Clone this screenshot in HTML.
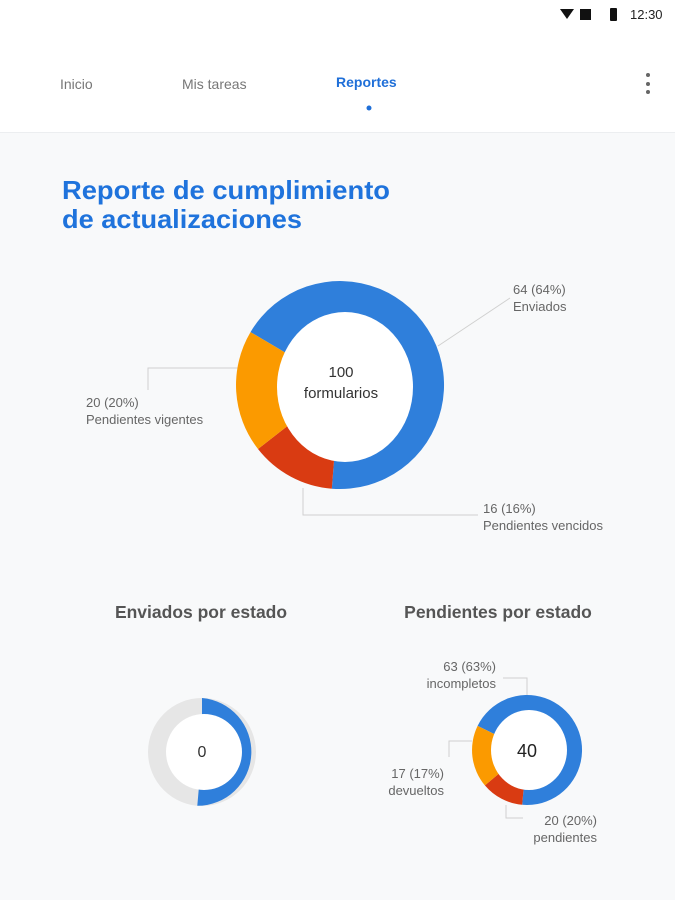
<!DOCTYPE html>
<html><head><meta charset="utf-8"><style>
body{margin:0;width:675px;height:900px;overflow:hidden;background:#f8f9fa;font-family:"Liberation Sans",sans-serif}
svg{display:block}
</style></head><body>
<svg width="675" height="900" viewBox="0 0 675 900" xmlns="http://www.w3.org/2000/svg" font-family="Liberation Sans, sans-serif">
<rect x="0" y="0" width="675" height="132" fill="#fff"/>
<line x1="0" y1="132.5" x2="675" y2="132.5" stroke="#eceef0"/>
<path d="M560 9 L574 9 L567 19 Z" fill="#111"/>
<rect x="580" y="9" width="11" height="11" fill="#111"/>
<rect x="610" y="8" width="7" height="13" rx="1" fill="#111"/>
<text x="630" y="19" font-size="13" fill="#222">12:30</text>
<text x="60" y="89" font-size="14" fill="#777">Inicio</text>
<text x="182" y="89" font-size="14" fill="#777">Mis tareas</text>
<text x="336" y="87" font-size="14" font-weight="bold" fill="#1f6fd8">Reportes</text>
<circle cx="369" cy="108" r="2.5" fill="#1f6fd8"/>
<circle cx="648" cy="75" r="2" fill="#666"/><circle cx="648" cy="84" r="2" fill="#666"/><circle cx="648" cy="92" r="2" fill="#666"/>
<text x="62" y="199" font-size="26" font-weight="bold" fill="#1f73dc" textLength="328" lengthAdjust="spacingAndGlyphs">Reporte de cumplimiento</text>
<text x="62" y="228" font-size="26" font-weight="bold" fill="#1f73dc" textLength="240" lengthAdjust="spacingAndGlyphs">de actualizaciones</text>
<g fill="none" stroke="#d0d0d0" stroke-width="1">
<polyline points="438,346 510,298"/>
<polyline points="238,368 148,368 148,390"/>
<polyline points="303,488 303,515 478,515"/>
</g>
<path d="M340 385 L250.5 332.1 A104 104 0 1 1 331.8 488.7 Z" fill="#2f7fdb"/>
<path d="M340 385 L331.8 488.7 A104 104 0 0 1 258 449 Z" fill="#d93b12"/>
<path d="M340 385 L258 449 A104 104 0 0 1 250.5 332.1 Z" fill="#fb9a00"/>
<ellipse cx="345" cy="387" rx="68" ry="75" fill="#fff"/>
<text x="341" y="377" font-size="15" fill="#333" text-anchor="middle">100</text>
<text x="341" y="398" font-size="15" fill="#333" text-anchor="middle">formularios</text>
<text x="513" y="294" font-size="13" fill="#666">64 (64%)</text>
<text x="513" y="311" font-size="13" fill="#666">Enviados</text>
<text x="86" y="407" font-size="13" fill="#666">20 (20%)</text>
<text x="86" y="424" font-size="13" fill="#666">Pendientes vigentes</text>
<text x="483" y="513" font-size="13" fill="#666">16 (16%)</text>
<text x="483" y="530" font-size="13" fill="#666">Pendientes vencidos</text>
<text x="201" y="618" font-size="17.5" font-weight="bold" fill="#555" text-anchor="middle">Enviados por estado</text>
<text x="498" y="618" font-size="17.5" font-weight="bold" fill="#555" text-anchor="middle">Pendientes por estado</text>
<circle cx="202" cy="752" r="54" fill="#e6e6e6"/>
<path d="M202 752 L202 698 A54 54 0 0 1 197.3 805.8 Z" fill="#2f7fdb"/>
<circle cx="204" cy="752" r="38" fill="#fff"/>
<text x="202" y="757" font-size="16" fill="#333" text-anchor="middle">0</text>
<g fill="none" stroke="#d0d0d0" stroke-width="1">
<polyline points="503,678 527,678 527,697"/>
<polyline points="472,741 449,741 449,757"/>
<polyline points="506,805 506,818 523,818"/>
</g>
<path d="M527 750 L477.6 725.9 A55 55 0 1 1 522.2 804.8 Z" fill="#2f7fdb"/>
<path d="M527 750 L522.2 804.8 A55 55 0 0 1 484.9 785.4 Z" fill="#d93b12"/>
<path d="M527 750 L484.9 785.4 A55 55 0 0 1 477.6 725.9 Z" fill="#fb9a00"/>
<ellipse cx="529" cy="750" rx="38" ry="40" fill="#fff"/>
<text x="527" y="757" font-size="18" fill="#222" text-anchor="middle">40</text>
<text x="496" y="671" font-size="13" fill="#666" text-anchor="end">63 (63%)</text>
<text x="496" y="688" font-size="13" fill="#666" text-anchor="end">incompletos</text>
<text x="444" y="778" font-size="13" fill="#666" text-anchor="end">17 (17%)</text>
<text x="444" y="795" font-size="13" fill="#666" text-anchor="end">devueltos</text>
<text x="597" y="825" font-size="13" fill="#666" text-anchor="end">20 (20%)</text>
<text x="597" y="842" font-size="13" fill="#666" text-anchor="end">pendientes</text>
</svg>
</body></html>
